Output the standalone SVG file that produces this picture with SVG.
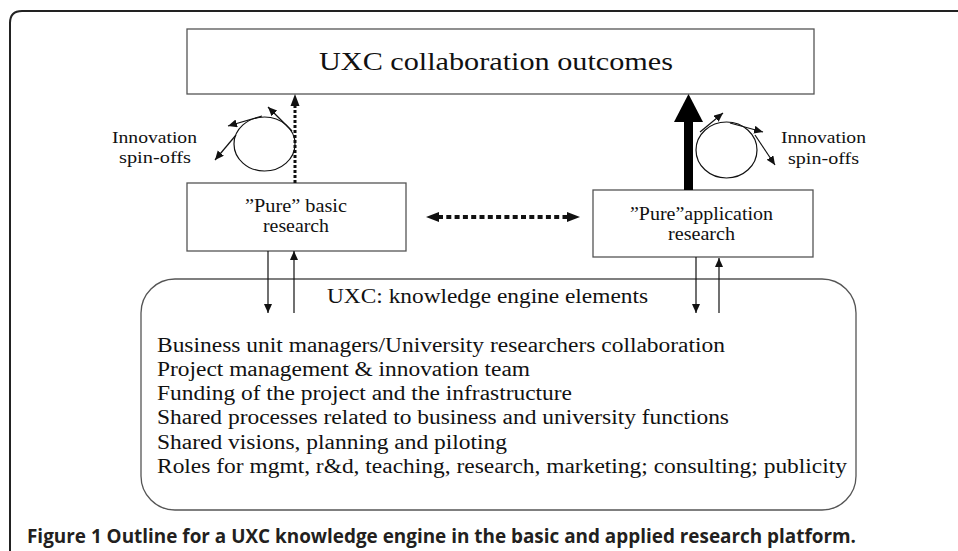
<svg xmlns="http://www.w3.org/2000/svg" width="958" height="551" viewBox="0 0 958 551">
<style>
.box{fill:#fff;stroke:#555;stroke-width:1.3}
.t{font-family:"Liberation Serif","Times New Roman",serif;fill:#111}
.thin{stroke:#111;stroke-width:1.2;fill:none}
.cap{font-family:"Open Sans","Liberation Sans",sans-serif;font-weight:bold;fill:#231f20}
</style>
<defs>
<marker id="ah" markerUnits="userSpaceOnUse" markerWidth="10" markerHeight="9" refX="9" refY="4" orient="auto">
<path d="M0,0 L9,4 L0,8 z" fill="#111"/>
</marker>
</defs>
<rect width="958" height="551" fill="#fff"/>
<path d="M10,551 V23 Q10,11 22,11 H958" fill="none" stroke="#222" stroke-width="2"/>

<g id="outcomes">
<rect class="box" x="187" y="29" width="627" height="65"/>
<text class="t" x="319" y="70" font-size="25" textLength="354" lengthAdjust="spacingAndGlyphs">UXC collaboration outcomes</text>
</g>

<g id="basic">
<rect class="box" x="187" y="183" width="219" height="68"/>
<text class="t" x="245" y="212" font-size="19" textLength="102" lengthAdjust="spacingAndGlyphs">”Pure” basic</text>
<text class="t" x="263" y="232" font-size="19" textLength="66" lengthAdjust="spacingAndGlyphs">research</text>
</g>

<g id="application">
<rect class="box" x="593" y="190" width="220" height="67"/>
<text class="t" x="630" y="220" font-size="19" textLength="143" lengthAdjust="spacingAndGlyphs">”Pure”application</text>
<text class="t" x="668" y="240" font-size="19" textLength="67" lengthAdjust="spacingAndGlyphs">research</text>
</g>

<g id="engine">
<rect class="box" x="141" y="279" width="715" height="231" rx="34" ry="34"/>
<text class="t" x="327" y="303" font-size="20" textLength="321" lengthAdjust="spacingAndGlyphs">UXC: knowledge engine elements</text>
<text class="t" x="157" y="352" font-size="20" textLength="568" lengthAdjust="spacingAndGlyphs">Business unit managers/University researchers collaboration</text>
<text class="t" x="157" y="376" font-size="20" textLength="373" lengthAdjust="spacingAndGlyphs">Project management &amp; innovation team</text>
<text class="t" x="157" y="400" font-size="20" textLength="415" lengthAdjust="spacingAndGlyphs">Funding of the project and the infrastructure</text>
<text class="t" x="157" y="424" font-size="20" textLength="572" lengthAdjust="spacingAndGlyphs">Shared processes related to business and university functions</text>
<text class="t" x="157" y="449" font-size="20" textLength="350" lengthAdjust="spacingAndGlyphs">Shared visions, planning and piloting</text>
<text class="t" x="157" y="473" font-size="20" textLength="690" lengthAdjust="spacingAndGlyphs">Roles for mgmt, r&amp;d, teaching, research, marketing; consulting; publicity</text>
</g>

<g id="spinoff-left">
<ellipse cx="264.5" cy="144" rx="30.5" ry="27" class="thin"/>
<line class="thin" x1="262" y1="116" x2="228" y2="126" marker-end="url(#ah)"/>
<line class="thin" x1="292" y1="131" x2="268" y2="107" marker-end="url(#ah)"/>
<line class="thin" x1="236" y1="135" x2="215" y2="160" marker-end="url(#ah)"/>
<text class="t" x="112" y="143" font-size="16" textLength="85" lengthAdjust="spacingAndGlyphs">Innovation</text>
<text class="t" x="119" y="163" font-size="16" textLength="72" lengthAdjust="spacingAndGlyphs">spin-offs</text>
</g>

<g id="spinoff-right">
<ellipse cx="726.5" cy="150" rx="30.5" ry="28" class="thin"/>
<line class="thin" x1="700" y1="132" x2="723" y2="113" marker-end="url(#ah)"/>
<line class="thin" x1="730" y1="123" x2="763" y2="132" marker-end="url(#ah)"/>
<line class="thin" x1="755" y1="135" x2="775" y2="165" marker-end="url(#ah)"/>
<text class="t" x="781" y="143" font-size="16" textLength="85" lengthAdjust="spacingAndGlyphs">Innovation</text>
<text class="t" x="788" y="164" font-size="16" textLength="71" lengthAdjust="spacingAndGlyphs">spin-offs</text>
</g>

<g id="connectors">
<line x1="295" y1="183" x2="295" y2="105" stroke="#111" stroke-width="3" stroke-dasharray="3 2"/>
<polygon points="295,94 290.5,106 299.5,106" fill="#111"/>
<line x1="438" y1="217" x2="568" y2="217" stroke="#111" stroke-width="4" stroke-dasharray="5 3.3"/>
<polygon points="426,217 439,212 439,222" fill="#111"/>
<polygon points="580,217 567,212 567,222" fill="#111"/>
<rect x="684" y="120" width="9" height="70" fill="#000"/>
<polygon points="688.5,94 674,122 703,122" fill="#000"/>
<line class="thin" x1="268" y1="251" x2="268" y2="313" marker-end="url(#ah)"/>
<line class="thin" x1="294" y1="313" x2="294" y2="251" marker-end="url(#ah)"/>
<line class="thin" x1="696" y1="257" x2="696" y2="313" marker-end="url(#ah)"/>
<line class="thin" x1="719" y1="313" x2="719" y2="258" marker-end="url(#ah)"/>
</g>

<text class="cap" x="27" y="543" font-size="19" textLength="829" lengthAdjust="spacingAndGlyphs">Figure 1 Outline for a UXC knowledge engine in the basic and applied research platform.</text>
</svg>
